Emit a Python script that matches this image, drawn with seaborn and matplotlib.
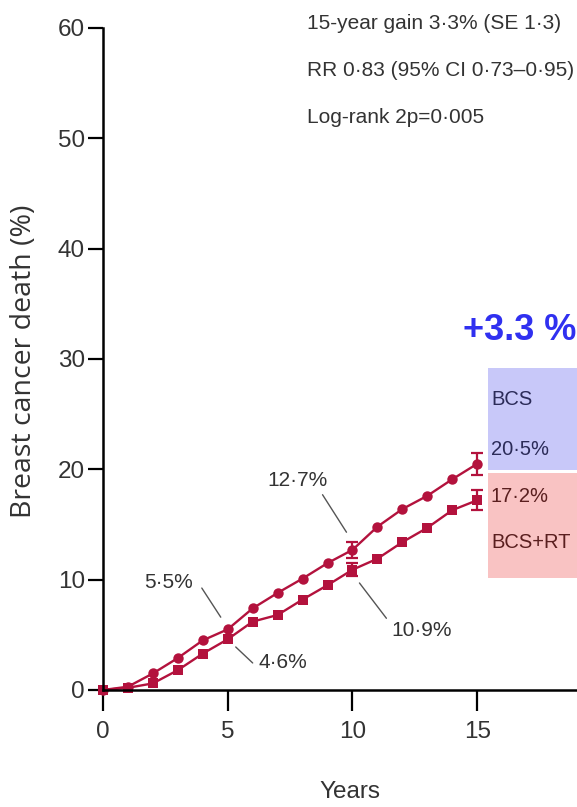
import numpy as np
import pandas as pd
import matplotlib
matplotlib.use("Agg")
import matplotlib.pyplot as plt
from matplotlib.patches import Rectangle
import seaborn as sns

# Cumulative breast cancer mortality (%) by year since randomisation
years = list(range(0, 16))
bcs = [0, 0.3, 1.5, 2.9, 4.5, 5.5, 7.4, 8.8, 10.1, 11.5, 12.7, 14.8, 16.4, 17.6, 19.1, 20.5]
bcs_rt = [0, 0.2, 0.6, 1.8, 3.3, 4.6, 6.2, 6.8, 8.2, 9.5, 10.9, 11.9, 13.4, 14.7, 16.3, 17.2]

# Standard errors shown at 10 and 15 years
se_years = [10, 15]
bcs_se = [0.7, 1.0]
bcs_rt_se = [0.6, 0.9]

x_ticks = [0, 5, 10, 15]
y_ticks = [0, 10, 20, 30, 40, 50, 60]

stats_lines = ["15-year gain 3·3% (SE 1·3)",
               "RR 0·83 (95% CI 0·73–0·95)",
               "Log-rank 2p=0·005"]

sns.set_theme(style="white")
plt.rcParams["font.family"] = ["Liberation Sans", "DejaVu Sans"]

LINE = "#b3123d"
TXT = "#333333"

df = pd.DataFrame({
    "year": years * 2,
    "pct": bcs + bcs_rt,
    "arm": ["BCS"] * len(years) + ["BCS+RT"] * len(years),
})

fig = plt.figure(figsize=(5.77, 8.07), dpi=100)
ax = fig.add_axes([103 / 577, 1 - 690 / 807, 1 - 103 / 577, (690 - 28) / 807])

sns.lineplot(data=df, x="year", y="pct", hue="arm", style="arm",
             markers={"BCS": "o", "BCS+RT": "s"}, dashes=False,
             palette={"BCS": LINE, "BCS+RT": LINE}, legend=False,
             linewidth=1.7, markersize=7.5, markeredgewidth=0, ax=ax, clip_on=False)

idx = [years.index(y) for y in se_years]
ax.errorbar(se_years, [bcs[i] for i in idx], yerr=bcs_se, fmt="none",
            ecolor=LINE, elinewidth=1.6, capsize=4, capthick=1.6)
ax.errorbar(se_years, [bcs_rt[i] for i in idx], yerr=bcs_rt_se, fmt="none",
            ecolor=LINE, elinewidth=1.6, capsize=4, capthick=1.6)

ax.set_xlim(0, 19)
ax.set_ylim(0, 60)
ax.set_xticks(x_ticks)
ax.set_yticks(y_ticks)
ax.tick_params(axis="both", which="major", labelsize=17.5, colors="black",
               labelcolor=TXT, width=1.6, direction="out", left=True, bottom=True)
ax.tick_params(axis="y", length=11, pad=2)
ax.tick_params(axis="x", length=15, pad=7)
sns.despine(ax=ax)
for side in ("left", "bottom"):
    ax.spines[side].set_linewidth(1.8)
    ax.spines[side].set_color("black")

ax.set_xlabel("Years", fontsize=17.5, color=TXT)
ax.xaxis.label.set_va("center")
ax.xaxis.set_label_coords((350 - 103) / 474, (690 - 792) / 662)
ax.set_ylabel("Breast cancer death (%)", fontsize=20.5, color=TXT,
              family=["Open Sans", "DejaVu Sans"])
ax.yaxis.label.set_va("center")
ax.yaxis.set_label_coords((24 - 103) / 474, (690 - 361) / 662)

# Statistics block
for i, line in enumerate(stats_lines):
    ax.text(8.16, 60.45 - 4.3 * i, line, fontsize=15, color=TXT,
            ha="left", va="center")

# Point labels with leader lines
def callout(text, xy_text, p0, p1):
    ax.text(*xy_text, text, fontsize=15, color=TXT, ha="center", va="center")
    ax.plot([p0[0], p1[0]], [p0[1], p1[1]], color="#555555", lw=1.0)

callout("12·7%", (7.8, 19.0), (8.8, 17.7), (9.76, 14.3))
callout("10·9%", (12.76, 5.4), (10.28, 9.7), (11.36, 6.5))
callout("5·5%", (2.64, 9.7), (3.96, 9.24), (4.72, 6.6))
callout("4·6%", (7.2, 2.5), (5.32, 3.9), (6.0, 2.45))

# End-of-follow-up summary boxes
ax.add_patch(Rectangle((15.44, 19.94), 19 - 15.44, 29.18 - 19.94,
                       facecolor="#c8c8f9", edgecolor="none", clip_on=False))
ax.add_patch(Rectangle((15.44, 10.15), 19 - 15.44, 19.67 - 10.15,
                       facecolor="#f9c3c3", edgecolor="none", clip_on=False))
box_y = lambda py: (690 - py) / 11.033
ax.text(15.55, box_y(400), "BCS", fontsize=14.5, color="#2b2b58", ha="left", va="center")
ax.text(15.55, box_y(450), "20·5%", fontsize=14.5, color="#2b2b58", ha="left", va="center")
ax.text(15.55, box_y(497), "17·2%", fontsize=14.5, color="#5a1f1f", ha="left", va="center")
ax.text(15.55, box_y(543), "BCS+RT", fontsize=14.5, color="#5a1f1f", ha="left", va="center")

ax.text(16.72, 32.6, "+3.3 %", fontsize=26, fontweight="bold", color="#3030f0",
        ha="center", va="center")

fig.savefig("out.png", dpi=100)
